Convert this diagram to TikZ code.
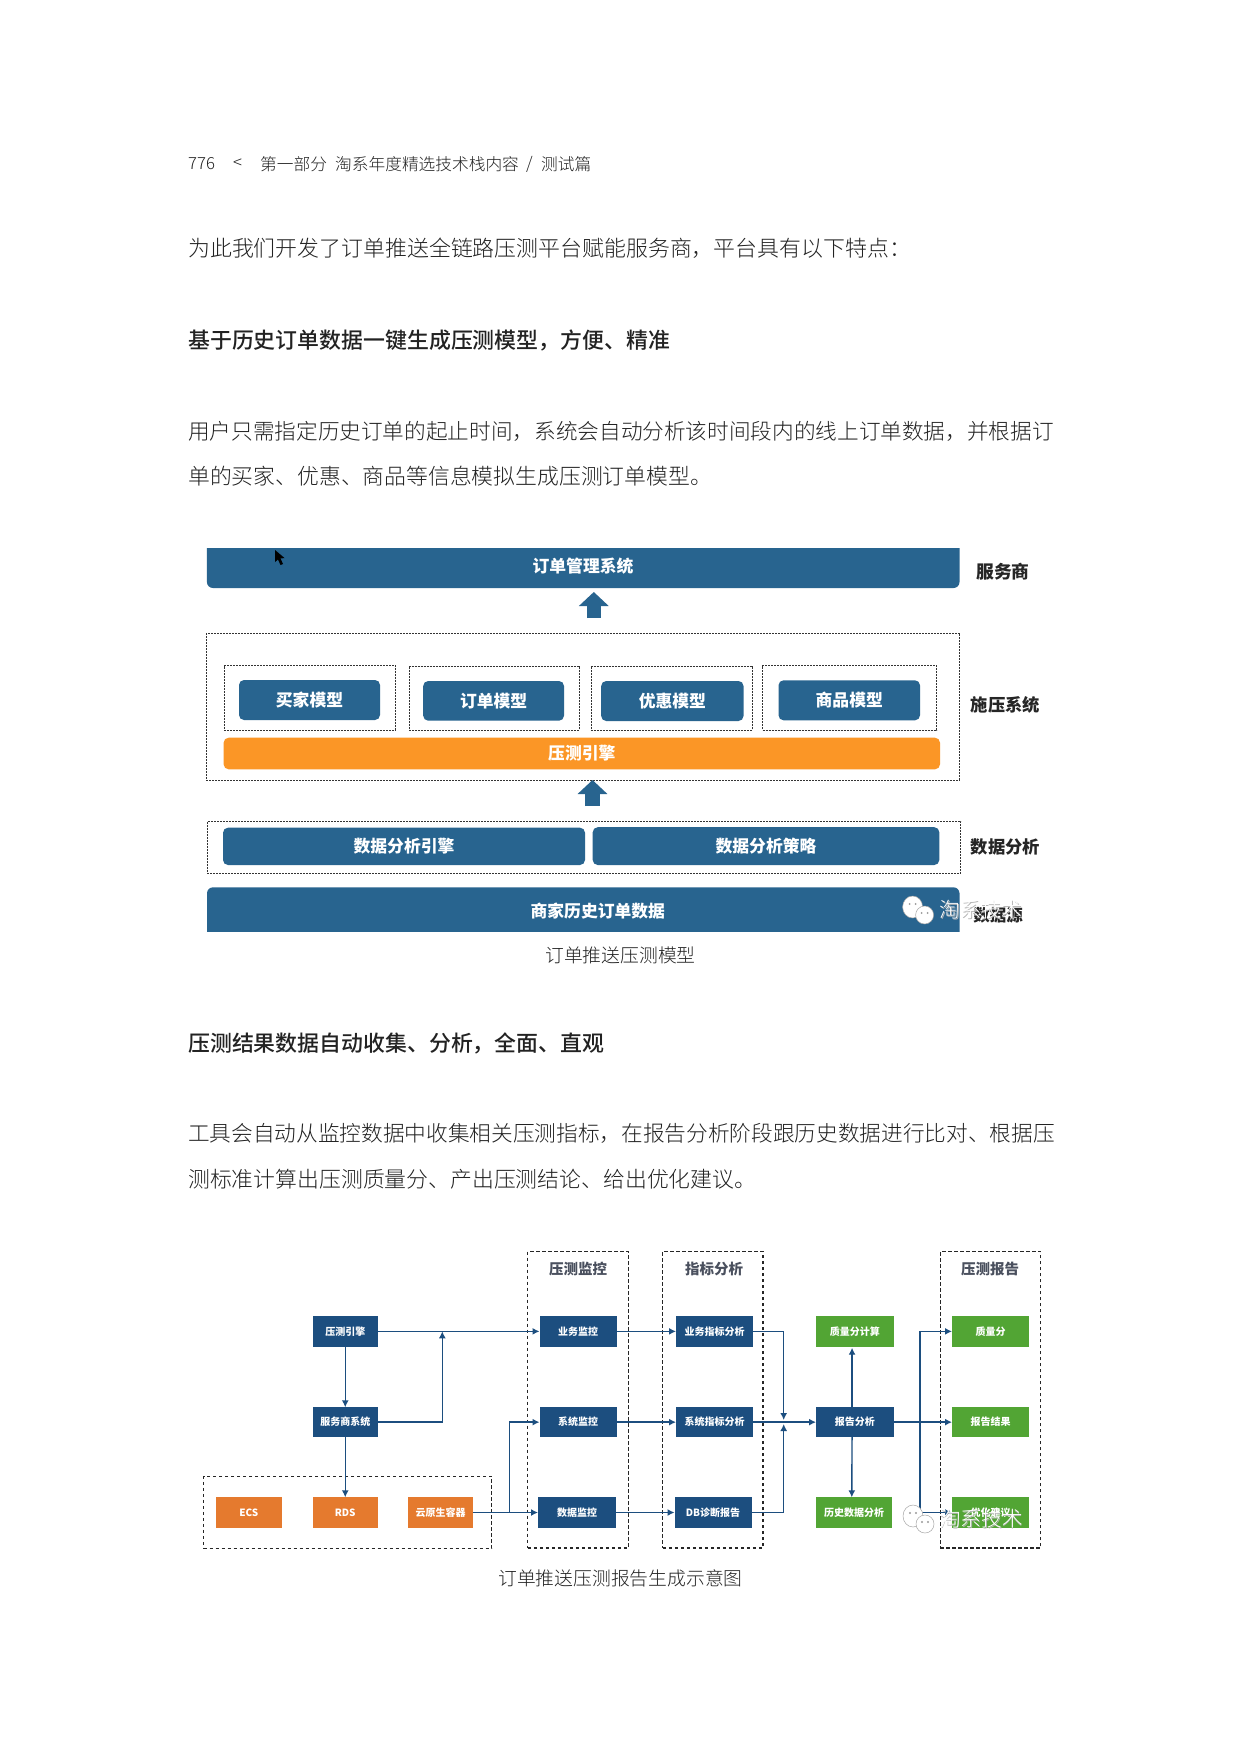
\documentclass[tikz,border=0pt]{standalone}
\usepackage{fontspec}
\setmainfont{Noto Sans CJK SC}
\newfontfamily\lightcjk{Noto Sans CJK SC Light}
\newfontfamily\mediumcjk{Noto Sans CJK SC Medium}
\usetikzlibrary{arrows.meta,calc}
\definecolor{ink}{HTML}{222222}
\definecolor{tblue}{HTML}{28648F}
\definecolor{torange}{HTML}{FB9626}
\definecolor{navy}{HTML}{1C4E7F}
\definecolor{borange}{HTML}{E57A2E}
\definecolor{bgreen}{HTML}{52A534}
\definecolor{titlegray}{HTML}{4A505E}
\newcommand{\fs}[1]{\fontsize{#1}{#1}\selectfont}
\newcommand{\low}[1]{\raisebox{-1.6pt}{#1}}
\newcommand{\bx}[7]{\node[#2,minimum width={(#5-#3)*1pt},minimum height={(#6-#4)*1pt}] (#1) at ({(#3+#5)/2},{(#4+#6)/2}) {#7};}
\newcommand{\wmark}[3]{%
  \fill[white,draw=gray!70,line width=.5pt] (#1-6,#2-3) ellipse (10 and 11);
  \fill[white,draw=gray!70,line width=.5pt] (#1+6,#2+5) ellipse (9 and 9);
  \fill[gray!80] (#1-9,#2-6) circle (1.1) (#1-3,#2-6) circle (1.1) (#1+3,#2+3) circle (1.1) (#1+9,#2+3) circle (1.1);
  \node[anchor=west,inner sep=0,text=gray!60,font=\lightcjk\fs{20.7}] (#3s) at (#1+21.6,#2+.7) {淘系技术};
  \node[anchor=west,inner sep=0,text=white,font=\lightcjk\fs{20.7}] (#3) at (#1+21,#2) {淘系技术};
}
\tikzset{
  x=1pt,y=-1pt,
  line text/.style={anchor=west,inner sep=0,text=ink,font=\lightcjk\fs{#1}},
  head text/.style={anchor=west,inner sep=0,text=ink,font=\mediumcjk\fs{#1}},
  small text/.style={anchor=west,inner sep=0,text=ink,font=\lightcjk\fs{16.7}},
  caption text/.style={inner sep=0,text=ink,font=\lightcjk\fs{18.8}},
  tdash/.style={draw=black!80,line width=.9pt,dash pattern=on 2pt off 1pt,inner sep=0,outer sep=0},
  tbox/.style={fill=tblue,rounded corners=5pt,inner sep=0,outer sep=0,text=white,font=\fs{16.8}\bfseries},
  tobox/.style={fill=torange,rounded corners=5pt,inner sep=0,outer sep=0,text=white,font=\fs{16.8}\bfseries},
  tlabel/.style={inner sep=0,text=black!85,font=\fs{#1}\bfseries},
  tbar/.style={inner sep=0,text=white,font=\fs{16.8}\bfseries},
  blockarrow/.style={draw=tblue,line width=14.5pt,-{Triangle[length=14pt,width=29pt]}},
  bdash/.style={draw=black!85,line width=1.3pt,dash pattern=on 3.5pt off 2.5pt,inner sep=0,outer sep=0},
  nbox/.style={fill=navy,inner sep=0,outer sep=0,text=white,font=\fs{10}\bfseries},
  obox/.style={fill=borange,inner sep=0,outer sep=0,text=white,font=\fs{10}\bfseries},
  gbox/.style={fill=bgreen,inner sep=0,outer sep=0,text=white,font=\fs{10}\bfseries},
  btitle/.style={inner sep=0,text=titlegray,font=\fs{14.5}\bfseries},
  conn/.style={draw=navy,line width=1.4pt,-{Latex[length=7pt,width=7pt]}},
}
\begin{document}
\begin{tikzpicture}
\useasboundingbox[fill=white] (0,0) rectangle (1240,1755);
% page text
\node[small text] (hdr1) at (188,164) {776};
\node[small text] (hdr2) at (233,164) {<};
\node[small text] (hdr3) at (260,164) {第一部分};
\node[small text] (hdr4) at (335,164) {淘系年度精选技术栈内容};
\node[small text] (hdr5) at (526,164) {/};
\node[small text] (hdr6) at (541,164) {测试篇};
\node[line text=21.9] (p1) at (188,248) {为此我们开发了订单推送全链路压测平台赋能服务商，平台具有以下特点：};
\node[head text=21.9] (h1) at (188,340) {基于历史订单数据一键生成压测模型，方便、精准};
\node[line text=21.64] (p2) at (188,431) {用户只需指定历史订单的起止时间，系统会自动分析该时间段内的线上订单数据，并根据订};
\node[line text=21.83] (p3) at (188,476) {单的买家、优惠、商品等信息模拟生成压测订单模型。};
\node[head text=21.9] (h2) at (188,1043) {压测结果数据自动收集、分析，全面、直观};
\node[line text=21.67] (p4) at (188,1133) {工具会自动从监控数据中收集相关压测指标，在报告分析阶段跟历史数据进行比对、根据压};
\node[line text=21.85] (p5) at (188,1179.5) {测标准计算出压测质量分、产出压测结论、给出优化建议。};
\node[caption text] (cap1) at (620.5,955) {订单推送压测模型};
\node[caption text] (cap2) at (620.5,1578) {订单推送压测报告生成示意图};

% top figure
\begin{scope}
\clip (200,548) rectangle (970,600);
\fill[tblue,rounded corners=6pt] (206.9,530) rectangle (959.5,588);
\end{scope}
\node[tbar] (oms) at (583,566.5) {订单管理系统};
\fill[black] (275,550) -- (275,562) -- (278,559.5) -- (280.5,565) -- (283,564) -- (280.5,558.5) -- (284.5,558) -- cycle;
\coordinate (ar1a) at (593.8,618);
\coordinate (ar1b) at (593.8,592);
\draw[blockarrow] (ar1a) -- (ar1b);
\bx{sys}{tdash}{206.4}{633}{959.5}{780}{}
\bx{m1}{tdash}{224}{665.7}{395.3}{730}{}
\bx{m2}{tdash}{409}{666}{579}{730.3}{}
\bx{m3}{tdash}{591}{666}{752}{730.3}{}
\bx{m4}{tdash}{762.5}{665.7}{936.5}{730}{}
\bx{buy}{tbox}{239}{680}{380}{720}{\low{买家模型}}
\bx{ord}{tbox}{423.2}{681}{564}{720.7}{\low{订单模型}}
\bx{dis}{tbox}{601.2}{681}{743.5}{721}{\low{优惠模型}}
\bx{itm}{tbox}{778.5}{680.3}{920}{720.3}{\low{商品模型}}
\bx{eng}{tobox}{223.6}{737.7}{940}{769.3}{\low{压测引擎}}
\coordinate (ar2a) at (592.5,806);
\coordinate (ar2b) at (592.5,780);
\draw[blockarrow] (ar2a) -- (ar2b);
\bx{ana}{tdash}{207}{821}{960.6}{873.3}{}
\bx{an1}{tbox}{223}{827.7}{585}{865}{\low{数据分析引擎}}
\bx{an2}{tbox}{592.7}{827.2}{939.3}{865}{\low{数据分析策略}}
\begin{scope}
\clip (200,880) rectangle (970,931);
\fill[tblue,rounded corners=6pt] (207,887.3) rectangle (959.5,950);
\end{scope}
\node[tbar] (hist) at (597.8,911.5) {商家历史订单数据};
\node[tlabel=17.8] (l1) at (1003,571.5) {服务商};
\node[tlabel=17.3] (l2) at (1005.3,704.5) {施压系统};
\node[tlabel=17.3] (l3) at (1005.3,847) {数据分析};
\node[tlabel=16.5] (l4) at (998,915) {数据源};
\wmark{918.6}{910}{wm1}

% bottom figure
\bx{gmon}{bdash}{527.8}{1251.3}{628.3}{1548}{}
\bx{gana}{bdash}{662.8}{1251.3}{763}{1548}{}
\bx{grep}{bdash}{940.2}{1251.3}{1040.5}{1548}{}
\bx{gres}{bdash}{203.7}{1476.3}{491.7}{1548.7}{}
\node[btitle] (t1) at (578,1269) {压测监控};
\node[btitle] (t2) at (714,1269) {指标分析};
\node[btitle] (t3) at (990,1269) {压测报告};
\bx{a1}{nbox}{312.5}{1316}{378}{1346.7}{压测引擎}
\bx{a2}{nbox}{312.5}{1407.3}{378}{1437}{服务商系统}
\bx{ecs}{obox}{216}{1497.3}{281.7}{1527.7}{ECS}
\bx{rds}{obox}{312.5}{1497.3}{378}{1527.7}{RDS}
\bx{cn}{obox}{408.3}{1497.3}{472.7}{1527.7}{云原生容器}
\bx{b1}{nbox}{539.5}{1316}{616.7}{1346.7}{业务监控}
\bx{b2}{nbox}{539.5}{1407.3}{616.7}{1437}{系统监控}
\bx{b3}{nbox}{538}{1497.3}{616}{1527.7}{数据监控}
\bx{c1}{nbox}{676}{1316}{753}{1346.7}{业务指标分析}
\bx{c2}{nbox}{676}{1407.3}{753}{1437}{系统指标分析}
\bx{c3}{nbox}{674.5}{1497.3}{751.5}{1527.7}{DB诊断报告}
\bx{d1}{gbox}{816}{1316}{893.5}{1346.7}{质量分计算}
\bx{d2}{nbox}{816}{1407.3}{893.5}{1437}{报告分析}
\bx{d3}{gbox}{816}{1497.3}{892}{1527.7}{历史数据分析}
\bx{e1}{gbox}{952}{1316}{1029}{1346.7}{质量分}
\bx{e2}{gbox}{952}{1407.3}{1029}{1437}{报告结果}
\bx{e3}{gbox}{952}{1497.3}{1029}{1527.7}{优化建议}
\coordinate (j1) at (442.3,1331.3);
\coordinate (j2) at (509.3,1512.5);
\coordinate (j3) at (783.7,1420);
\coordinate (j4) at (783.7,1424);
\coordinate (j5) at (920,1422);
\draw[conn] (a1.east) -- (b1.west);
\draw[conn] (a1.south) -- (a2.north);
\draw[conn] (a2.south) -- (rds.north);
\draw[conn] (a2.east) -| (j1);
\draw[conn] (cn.east) -- (b3.west);
\draw[conn] (j2) |- (b2.west);
\draw[conn] (b1.east) -- (c1.west);
\draw[conn] (b2.east) -- (c2.west);
\draw[conn] (b3.east) -- (c3.west);
\draw[conn] (c1.east) -| (j3);
\draw[conn] (c3.east) -| (j4);
\draw[conn] (c2.east) -- (d2.west);
\draw[conn] (d2.north) ++(-2.7,0) -- ($(d1.south)+(-2.7,1)$);
\draw[conn] (d2.south) ++(-2.7,0) -- ($(d3.north)+(-2.2,0)$);
\draw[conn] (d2.east) -- (e2.west);
\draw[conn] (j5) |- (e1.west);
\draw[conn] (j5) |- (e3.west);
\wmark{919}{1519}{wm2}
\end{tikzpicture}
\end{document}
